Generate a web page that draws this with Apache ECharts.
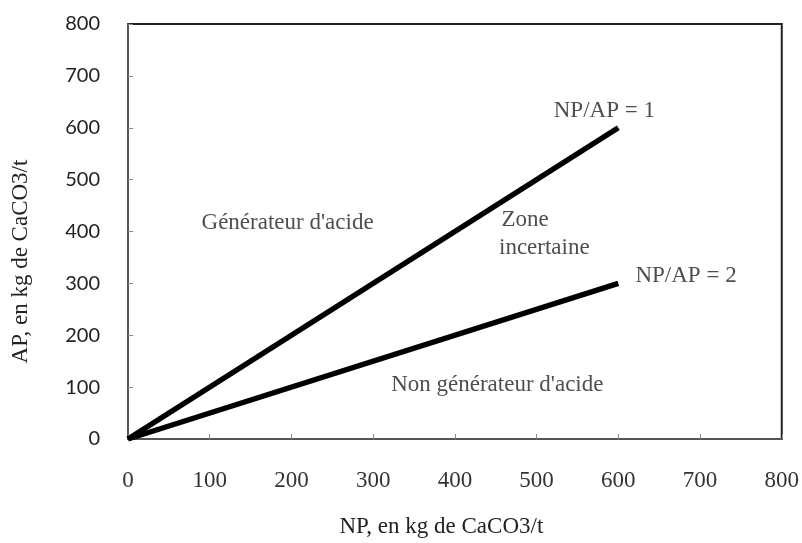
<!DOCTYPE html>
<html>
<head>
<meta charset="utf-8">
<script src="https://cdn.jsdelivr.net/npm/echarts@6/dist/echarts.min.js"></script>
<style>
html,body{margin:0;padding:0;background:#fff;}
#chart{width:802px;height:543px;}
</style>
</head>
<body>
<div id="chart"></div>
<script>
// droites NP/AP
var npValues = [0, 600];
var apRatio1 = [0, 600];
var apRatio2 = [0, 300];

// textes dans le graphique (NP, AP, texte)
var annotNP = [521, 621, 90, 457, 454, 322];
var annotAP = [632, 315, 416, 422, 368, 105];
var annotText = ['NP/AP = 1', 'NP/AP = 2', 'Générateur d\'acide', 'Zone', 'incertaine', 'Non générateur d\'acide'];

var xTicks = [0, 100, 200, 300, 400, 500, 600, 700, 800];

function pairs(xs, ys){
	var out = [];
	for(var i = 0; i < xs.length; i++){
		out.push([xs[i], ys[i]]);
	}
	return out;
}

var annotData = [];
for(var i = 0; i < annotText.length; i++){
	annotData.push([annotNP[i], annotAP[i], annotText[i]]);
}

var serif = '"Liberation Serif", "DejaVu Serif", serif';

var myChart = echarts.init(document.getElementById('chart'));
myChart.setOption({
	animation:false,
	backgroundColor:'#fff',
	grid:{
		left:128,
		right:19,
		top:24,
		bottom:100,
		show:true,
		borderColor:'#222',
		borderWidth:2
	},
	xAxis:{
		type:'value',
		min:xTicks[0],
		max:xTicks[xTicks.length-1],
		interval:100,
		name:'NP, en kg de CaCO3/t',
		nameLocation:'middle',
		nameGap:76,
		nameTextStyle:{
			fontFamily:serif,
			fontSize:23,
			color:'#222',
			padding:[0,27,0,0]
		},
		axisLine:{show:true, lineStyle:{color:'#555', width:2}},
		axisTick:{show:true, inside:true, length:5, lineStyle:{color:'#888'}},
		axisLabel:{fontFamily:serif, fontSize:23, color:'#333', margin:30},
		splitLine:{show:false}
	},
	yAxis:{
		type:'value',
		min:0,
		max:800,
		interval:100,
		name:'AP, en kg de CaCO3/t',
		nameLocation:'middle',
		nameGap:96,
		nameTextStyle:{
			fontFamily:serif,
			fontSize:23,
			color:'#222',
			padding:[0,60,0,0]
		},
		axisLine:{show:true, lineStyle:{color:'#555', width:2}},
		axisTick:{show:true, inside:true, length:5, lineStyle:{color:'#888'}},
		axisLabel:{fontFamily:'Lato, "Open Sans", sans-serif', fontSize:20, color:'#222', margin:28},
		splitLine:{show:false}
	},
	series:[
		{
			name:'NP/AP = 1',
			type:'line',
			symbol:'none',
			lineStyle:{color:'#000', width:5.5},
			data:pairs(npValues, apRatio1)
		},
		{
			name:'NP/AP = 2',
			type:'line',
			symbol:'none',
			lineStyle:{color:'#000', width:5.5},
			data:pairs(npValues, apRatio2)
		},
		{
			name:'textes',
			type:'scatter',
			symbolSize:0,
			silent:true,
			label:{
				show:true,
				position:'inside',
				align:'left',
				verticalAlign:'middle',
				fontFamily:serif,
				fontSize:23,
				color:'#222',
				formatter:function(p){ return p.value[2]; }
			},
			data:annotData
		}
	]
});
</script>
</body>
</html>
